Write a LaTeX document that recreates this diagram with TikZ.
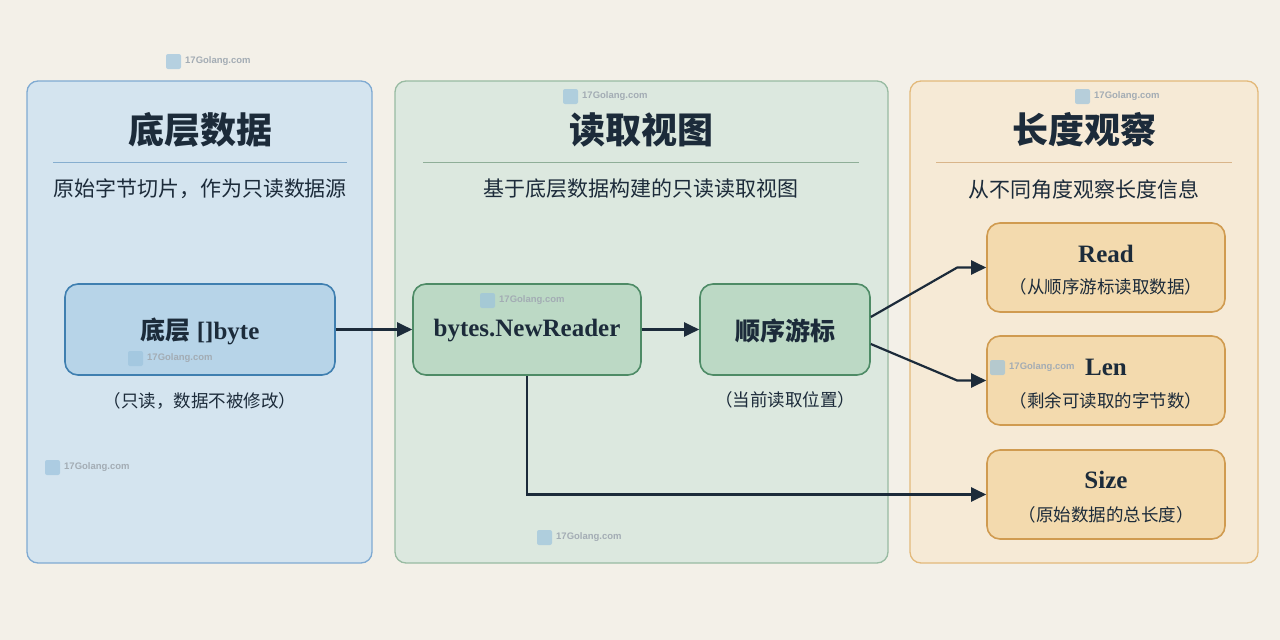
\documentclass[tikz,border=0pt]{standalone}
\usepackage{fontspec}
\setmainfont{Liberation Serif}
\newfontfamily\cjk{Noto Sans CJK SC}
\newfontfamily\wmfont{Liberation Sans}
\usetikzlibrary{arrows.meta,calc}
\definecolor{bg}{HTML}{F3F0E8}
\definecolor{ink}{HTML}{1C2B3A}
\definecolor{bluepanel}{HTML}{D4E4EF}
\definecolor{blueborder}{HTML}{7FAAD2}
\definecolor{bluesep}{HTML}{86AECF}
\definecolor{bluebox}{HTML}{B7D4E8}
\definecolor{blueboxb}{HTML}{3F7FB0}
\definecolor{greenpanel}{HTML}{DCE8DF}
\definecolor{greenborder}{HTML}{98BBA2}
\definecolor{greensep}{HTML}{8FAE98}
\definecolor{greenbox}{HTML}{BCD9C5}
\definecolor{greenboxb}{HTML}{4E8B66}
\definecolor{orangepanel}{HTML}{F6EAD6}
\definecolor{orangeborder}{HTML}{E3B97A}
\definecolor{orangesep}{HTML}{D9B58A}
\definecolor{orangebox}{HTML}{F3DAAE}
\definecolor{orangeboxb}{HTML}{D09B50}
\definecolor{wmgray}{HTML}{A3ACB4}
\definecolor{wmicon}{HTML}{9CC3DD}
\tikzset{
  panel/.style={rounded corners=11pt, line width=1.3pt},
  sep/.style={line width=1pt},
  ptitle/.style={font=\fontsize{36}{42}\selectfont\cjk\bfseries, text=ink, inner sep=0pt},
  psub/.style={font=\fontsize{21}{26}\selectfont\cjk, text=ink, inner sep=0pt},
  box/.style={rounded corners=13pt, line width=1.6pt, inner sep=0pt},
  boxtext/.style={font=\fontsize{25}{30}\selectfont\bfseries, text=ink, inner sep=0pt},
  boxcjk/.style={font=\fontsize{25}{30}\selectfont\cjk\bfseries, text=ink, inner sep=0pt},
  note/.style={font=\fontsize{17.5}{22}\selectfont\cjk, text=ink, inner sep=0pt},
  arr/.style={-{Triangle[length=15pt,width=14pt]}, line width=2.2pt, draw=ink},
  wmtext/.style={font=\fontsize{9.5}{11}\selectfont\wmfont\bfseries, text=wmgray, inner sep=0pt, anchor=west},
}
\newcommand\wmarkat[3]{%
  \fill[wmicon, opacity=0.7, rounded corners=2pt] (#1,#2-7) rectangle ++(15,15);
  \node[wmtext] (#3) at (#1+19,#2) {17Golang.com};
}
\begin{document}
\begin{tikzpicture}[x=1pt,y=-1pt]
\useasboundingbox (0,0) rectangle (1280,640);
\fill[bg] (0,0) rectangle (1280,640);

% panels
\draw[panel, fill=bluepanel, draw=blueborder] (27,81) rectangle (372,563);
\draw[panel, fill=greenpanel, draw=greenborder] (395,81) rectangle (888,563);
\draw[panel, fill=orangepanel, draw=orangeborder] (910,81) rectangle (1258,563);

% titles
\node[ptitle] (t1) at (200,130) {底层数据};
\node[ptitle] (t2) at (641,130) {读取视图};
\node[ptitle] (t3) at (1084,130) {长度观察};
\draw[sep, draw=bluesep] (53,162) -- (347,162);
\draw[sep, draw=greensep] (423,162) -- (859,162);
\draw[sep, draw=orangesep] (936,162) -- (1232,162);
\node[psub] (s1) at (200,189) {原始字节切片，作为只读数据源};
\node[psub] (s2) at (641,189) {基于底层数据构建的只读读取视图};
\node[psub] (s3) at (1084,189) {从不同角度观察长度信息};

% main boxes
\node[box, fill=bluebox, draw=blueboxb, minimum width=270pt, minimum height=91pt] (raw) at (200,329.5) {};
\node[font=\fontsize{25}{30}\selectfont\bfseries, text=ink, inner sep=0pt] (rawt) at (200,331) {{\cjk 底层} []byte};
\node[note] (rawn) at (200,401) {（只读，数据不被修改）};

\node[box, fill=greenbox, draw=greenboxb, minimum width=228pt, minimum height=91pt] (nr) at (527,329.5) {};
\node[boxtext] (nrt) at (527,331) {bytes.NewReader};

\node[box, fill=greenbox, draw=greenboxb, minimum width=170pt, minimum height=91pt] (cur) at (785,329.5) {};
\node[boxcjk] (curt) at (785,331) {顺序游标};
\node[note] (curn) at (785,400) {（当前读取位置）};

\node[box, fill=orangebox, draw=orangeboxb, minimum width=238pt, minimum height=89pt] (rd) at (1106,267.5) {};
\node[boxtext] (rdt) at (1106,254) {Read};
\node[note] (rdn) at (1106,287) {（从顺序游标读取数据）};

\node[box, fill=orangebox, draw=orangeboxb, minimum width=238pt, minimum height=89pt] (ln) at (1106,380.5) {};
\node[boxtext] (lnt) at (1106,367) {Len};
\node[note] (lnn) at (1106,401) {（剩余可读取的字节数）};

\node[box, fill=orangebox, draw=orangeboxb, minimum width=238pt, minimum height=89pt] (sz) at (1106,494.5) {};
\node[boxtext] (szt) at (1106,480) {Size};
\node[note] (szn) at (1106,515) {（原始数据的总长度）};

% connectors
\draw[arr] (raw.east) -- (nr.west);
\draw[arr] (nr.east) -- (cur.west);
\draw[arr] ($(cur.east)+(0,-12.5)$) -- ($(rd.west)+(-29,0)$) -- (rd.west);
\draw[arr] ($(cur.east)+(0,14.5)$) -- ($(ln.west)+(-29,0)$) -- (ln.west);
\draw[arr] (nr.south) -- (nr.south |- sz.west) -- (sz.west);

% watermarks
\wmarkat{166}{61}{w1}
\wmarkat{563}{96}{w2}
\wmarkat{480}{300}{w3}
\wmarkat{128}{358}{w4}
\wmarkat{45}{467}{w5}
\wmarkat{1075}{96}{w6}
\wmarkat{990}{367}{w7}
\wmarkat{537}{537}{w8}
\end{tikzpicture}
\end{document}
